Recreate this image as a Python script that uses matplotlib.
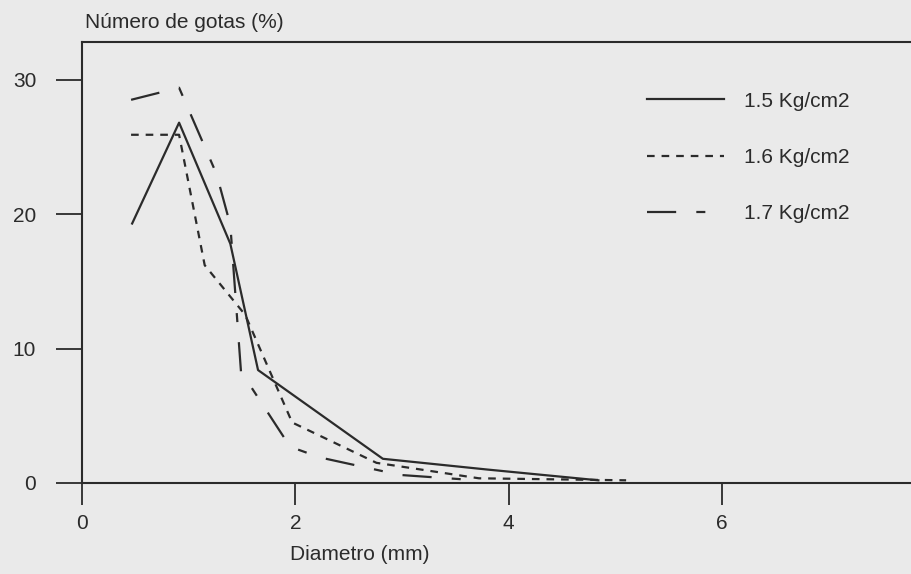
import matplotlib
matplotlib.use("Agg")
import matplotlib.pyplot as plt

# droplet size distribution
diam_15 = [0.47, 0.91, 1.39, 1.65, 2.82, 3.80, 4.84]
pct_15 = [19.3, 26.8, 17.8, 8.4, 1.8, 1.0, 0.2]

diam_16 = [0.46, 0.91, 1.15, 1.53, 1.97, 2.76, 3.72, 5.10]
pct_16 = [25.9, 25.9, 16.2, 12.5, 4.5, 1.5, 0.35, 0.2]

diam_17 = [0.46, 0.91, 1.26, 1.39, 1.49, 1.95, 2.23, 2.98, 3.70]
pct_17 = [28.5, 29.4, 23.0, 19.2, 8.3, 2.7, 1.9, 0.6, 0.2]

labels = ["1.5 Kg/cm2", "1.6 Kg/cm2", "1.7 Kg/cm2"]
xticks = [0, 2, 4, 6]
yticks = [0, 10, 20, 30]

ink = "#2b2b2b"
bg = "#eaeaea"
fs = 15

plt.rcParams["font.family"] = ["Liberation Sans", "DejaVu Sans"]
plt.rcParams["lines.scale_dashes"] = False

fig = plt.figure(figsize=(9.11, 5.74), dpi=100, facecolor=bg)
ax = fig.add_axes([82 / 911, 91 / 574, 829 / 911, 441 / 574])
ax.set_facecolor(bg)

ax.plot(diam_15, pct_15, color=ink, lw=1.6, linestyle="-", label=labels[0])
ax.plot(diam_16, pct_16, color=ink, lw=1.6, linestyle=(0, (5.5, 5.0)), label=labels[1])
ax.plot(diam_17, pct_17, color=ink, lw=1.6, linestyle=(0, (21, 14.5, 6.5, 14.5)), label=labels[2])

ax.set_xlim(0, 7.77)
ax.set_ylim(0, 32.8)
ax.set_xticks(xticks)
ax.set_yticks(yticks)

for side in ["left", "bottom", "top"]:
    ax.spines[side].set_color(ink)
    ax.spines[side].set_linewidth(1.5)
ax.spines["right"].set_visible(False)

ax.tick_params(axis="y", direction="out", length=19, width=1.3, pad=14,
               colors=ink, labelsize=fs)
ax.tick_params(axis="x", direction="out", length=16, width=1.3, pad=6,
               colors=ink, labelsize=fs)

fig.text(85 / 911, 1 - 22 / 574, "Número de gotas (%)", fontsize=fs,
         color=ink, ha="left", va="center")
fig.text(360 / 911, 1 - 555 / 574, "Diametro (mm)", fontsize=fs,
         color=ink, ha="center", va="center")

leg = ax.legend(loc="upper left", bbox_to_anchor=(628 / 911, 1 - 73 / 574),
                bbox_transform=fig.transFigure, frameon=False, fontsize=fs,
                handlelength=3.7, handletextpad=0.95, labelspacing=1.78)
for t in leg.get_texts():
    t.set_color(ink)

fig.savefig("out.png", dpi=100, facecolor=bg)
